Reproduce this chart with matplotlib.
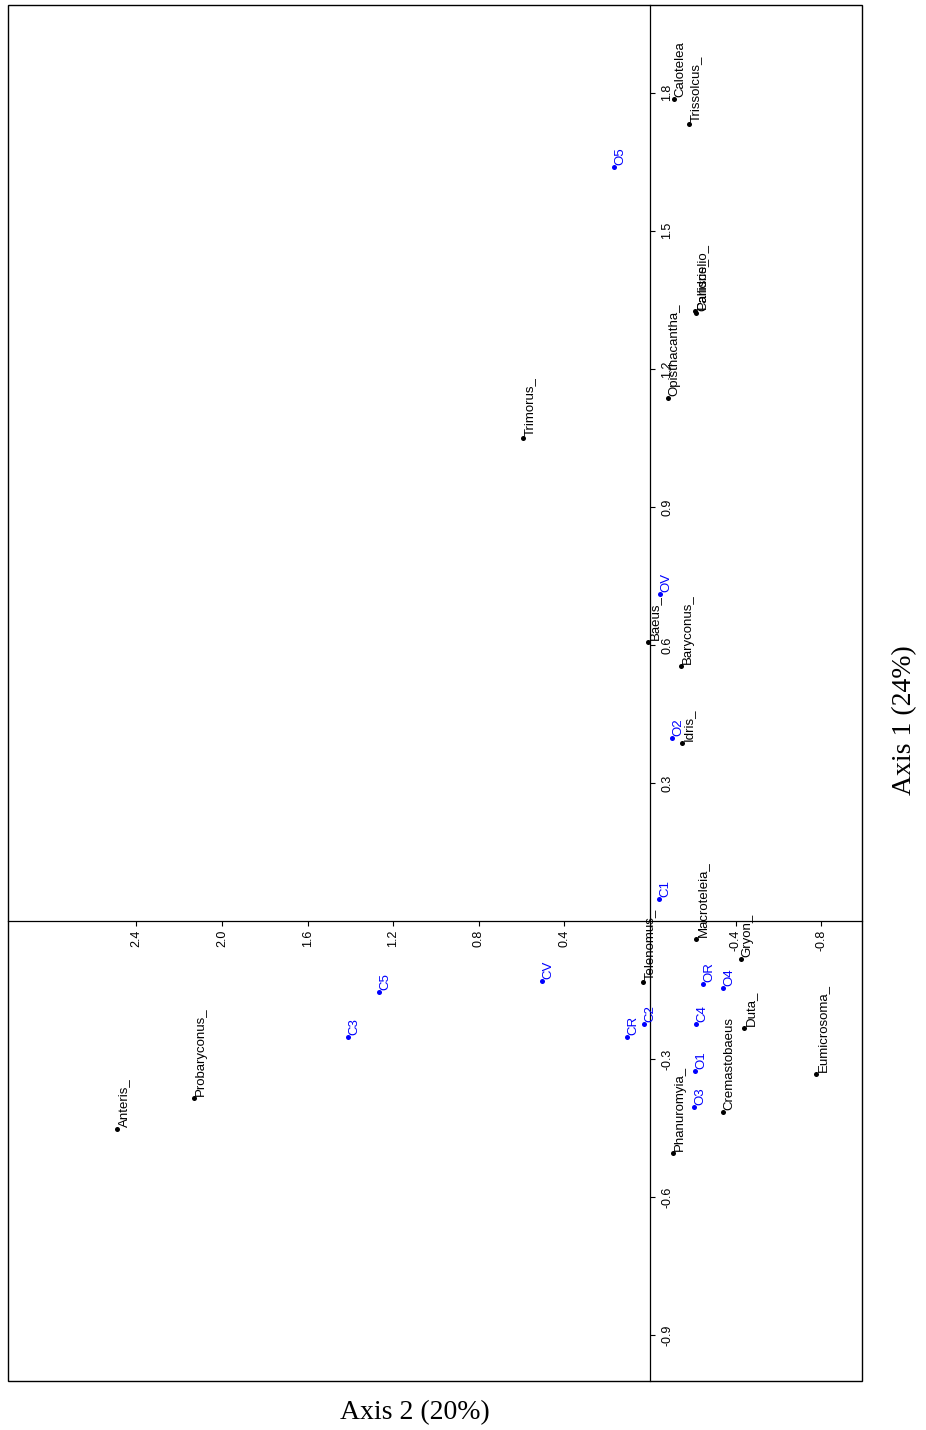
import numpy as np
import matplotlib
matplotlib.use('Agg')
import matplotlib.pyplot as plt
from matplotlib.patches import Rectangle

# species scores (black)
species = ['Calotelea', 'Trissolcus_', 'Calliscelio_', 'Paridris_', 'Opisthacantha_',
           'Trimorus_', 'Baeus_', 'Baryconus_', 'Idris_', 'Macroteleia_', 'Gryon_',
           'Telenomus_', 'Duta_', 'Eumicrosoma_', 'Cremastobaeus', 'Phanuromyia_',
           'Anteris_', 'Probaryconus_']
sp_axis1 = [1.787, 1.733, 1.322, 1.325, 1.137, 1.050, 0.607, 0.554, 0.387, -0.039,
            -0.083, -0.133, -0.233, -0.333, -0.415, -0.504, -0.452, -0.385]
sp_axis2 = [-0.112, -0.182, -0.215, -0.212, -0.084, 0.593, 0.009, -0.145, -0.150,
            -0.215, -0.425, 0.033, -0.439, -0.776, -0.341, -0.107, 2.490, 2.131]

# sample scores (blue)
samples = ['O5', 'OV', 'O2', 'C1', 'OR', 'O4', 'C2', 'CR', 'C4', 'O1', 'O3', 'C3', 'C5', 'CV']
sa_axis1 = [1.639, 0.711, 0.398, 0.048, -0.137, -0.146, -0.224, -0.252, -0.224,
            -0.326, -0.404, -0.252, -0.154, -0.130]
sa_axis2 = [0.168, -0.047, -0.103, -0.042, -0.248, -0.341, 0.028, 0.107, -0.215,
            -0.210, -0.206, 1.411, 1.266, 0.505]

xticks = [2.4, 2.0, 1.6, 1.2, 0.8, 0.4, -0.4, -0.8]
yticks = [1.8, 1.5, 1.2, 0.9, 0.6, 0.3, -0.3, -0.6, -0.9]

plt.rcParams['font.family'] = ['Liberation Sans', 'DejaVu Sans']

fig = plt.figure(figsize=(9.26, 14.30), dpi=100)
ax = fig.add_axes([0.00864, 0.03427, 0.92225, 0.96224])
ax.set_xlim(3.0, -0.99)
ax.set_ylim(-1.0, 1.991)


def draw_group(names, a1, a2, color):
    ax.scatter(a2, a1, s=13, color=color, zorder=3, linewidths=0)
    for name, y, x in zip(names, a1, a2):
        ax.annotate(name, (x, y), xytext=(0.3, 1.5), textcoords='offset points',
                    rotation=90, ha='left', va='bottom', fontsize=9.5, color=color)


draw_group(species, sp_axis1, sp_axis2, 'black')
draw_group(samples, sa_axis1, sa_axis2, '#0000ff')

# axes through the origin
ax.spines['right'].set_position(('data', 0))
ax.spines['bottom'].set_position(('data', 0))
ax.spines['left'].set_visible(False)
ax.spines['top'].set_visible(False)
for s in ['right', 'bottom']:
    ax.spines[s].set_linewidth(0.9)
ax.add_patch(Rectangle((0, 0), 1, 1, transform=ax.transAxes, fill=False,
                       lw=1.0, color='black', clip_on=False))

ax.yaxis.tick_right()
ax.set_xticks(xticks)
ax.set_yticks(yticks)
ax.set_xticklabels([f'{v:.1f}' for v in xticks])
ax.set_yticklabels([f'{v:.1f}' for v in yticks])
ax.tick_params(axis='both', direction='out', length=3.6, width=0.8,
               labelsize=9, labelrotation=90)
ax.tick_params(axis='y', pad=4.5)
ax.tick_params(axis='x', pad=2.5)
for lbl in ax.get_yticklabels():
    lbl.set_va('center')

fig.text(0.977, 0.4965, 'Axis 1 (24%)', rotation=90, ha='center', va='center',
         fontsize=20, family='Liberation Serif')
fig.text(0.448, 0.0119, 'Axis 2 (20%)', ha='center', va='center',
         fontsize=20, family='Liberation Serif')

fig.savefig('out.png', dpi=100)
